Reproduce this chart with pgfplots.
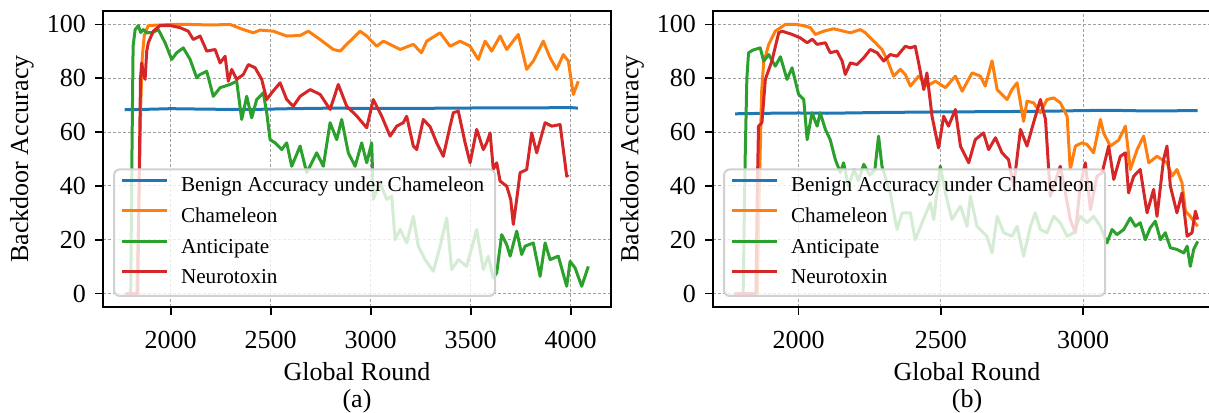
\documentclass[border=0pt]{standalone}
\usepackage{fontspec}
\setmainfont{Liberation Serif}
\usepackage{pgfplots}
\pgfplotsset{compat=1.18}

\definecolor{tabblue}{HTML}{1F77B4}
\definecolor{taborange}{HTML}{FF7F0E}
\definecolor{tabgreen}{HTML}{2CA02C}
\definecolor{tabred}{HTML}{D62728}

\newcommand{\labelfont}{\fontsize{13}{15}\selectfont}
\newcommand{\legfont}{\fontsize{10.6}{12}\selectfont}

\pgfplotsset{
  panel/.style={
    scale only axis,
    width=254pt, height=148pt,
    anchor=north west,
    ymin=-5, ymax=105,
    ytick={0,20,...,100},
    xtick={2000,2500,...,4000},
    scaled x ticks=false,
    /pgf/number format/assume math mode=true,
    /pgf/number format/1000 sep={},
    axis line style={line width=1pt},
    tick align=outside,
    major tick length=4pt,
    tick style={line width=0.8pt, black},
    xtick pos=left, ytick pos=left,
    grid=major,
    major grid style={gray!75, line width=0.5pt, dash pattern=on 1.5pt off 1pt},
    tick label style={font=\labelfont},
    xticklabel style={yshift=-4.5pt},
    yticklabel style={xshift=-1pt},
    label style={font=\labelfont},
    xlabel={Global Round},
    ylabel={Backdoor Accuracy},
    xlabel style={at={(axis description cs:0.5,0)}, anchor=base, yshift=-36.5pt},
    ylabel style={at={(axis description cs:-0.1594,0.5)}, anchor=center},
    legend cell align=left,
    legend image code/.code={
      \draw[#1, line width=1.5pt] (0pt,3.3pt) -- (22.5pt,3.3pt);
      \path (26.5pt,3.3pt);
    },
    legend style={
      at={(axis description cs:0.0197,0.0338)}, anchor=south west,
      draw=black!18, line width=1pt, rounded corners=3pt,
      fill=white, fill opacity=0.8, text opacity=1,
      font=\legfont, inner xsep=3pt, inner ysep=1.2pt, row sep=0.3pt,
      nodes={inner sep=2.5pt, text height=7.6pt, text depth=2.4pt},
    },
    every axis plot/.append style={line width=1.5pt, line join=round, no marks},
  },
}

\begin{document}
\begin{tikzpicture}[x=1pt, y=1pt]
\path[use as bounding box] (0,0) rectangle (604.5,-206);

% ---------- (a) ----------
\begin{axis}[panel, at={(51.5pt,-5.5pt)}, xmin=1661.5, xmax=4201.5]
\addplot[tabblue] coordinates {
(1770,68.3) (1900,68.5) (2000,68.7) (2200,68.5) (2400,68.4) (2600,68.7)
(2800,68.9) (3000,68.8) (3200,68.8) (3400,68.9) (3600,69.0) (3800,69.0)
(4000,69.1) (4036,68.9)};
\addlegendentry{Benign Accuracy under Chameleon}
\addplot[taborange] coordinates {
(1775,0) (1830,0) (1840,30) (1850,70) (1858,88) (1868,96) (1888,99.6)
(2000,100) (2100,100) (2200,99.8) (2297,100) (2363,98.1) (2413,96.9)
(2447,97.9) (2513,97.5) (2580,95.7) (2647,95.9) (2688,97.5) (2747,94.4)
(2813,90.7) (2847,90.1) (2880,92.6) (2947,97.5) (2980,95.7) (3030,91.9)
(3063,93.8) (3097,92.6) (3147,90.7) (3213,92.6) (3254,89.5) (3280,93.8)
(3347,96.9) (3397,91.9) (3447,93.8) (3497,91.9) (3538,87) (3572,93.8)
(3605,90.1) (3647,95.7) (3680,90.7) (3738,96.3) (3780,83.3) (3813,86.4)
(3863,93.8) (3897,87.6) (3930,83.3) (3963,88.8) (3988,86.4) (4013,74)
(4038,78.9)};
\addlegendentry{Chameleon}
\addplot[tabgreen] coordinates {
(1775,0) (1800,0) (1806,50) (1812,92) (1822,98) (1838,99.6) (1850,97)
(1863,98.1) (1880,96.9) (1910,97) (1938,98.1) (1972,93.2) (2005,87)
(2030,89.5) (2063,91.3) (2097,87) (2130,80.2) (2147,81.4) (2180,82.6)
(2213,73.3) (2247,76.5) (2297,77.7) (2330,78.9) (2355,64.7) (2380,73.3)
(2405,65.3) (2430,72.1) (2463,74.6) (2480,67.2) (2497,57.2) (2522,56)
(2555,53.5) (2580,56) (2605,47.3) (2647,54.8) (2680,44.9) (2730,52.3)
(2763,47.3) (2797,63.5) (2830,57.2) (2855,64.7) (2888,52.3) (2922,47.3)
(2955,56) (2980,48.6) (3005,56) (3013,35) (3047,41.1) (3080,35) (3105,36.2)
(3122,20) (3147,23.8) (3180,18.8) (3213,28.7) (3238,17.6) (3272,12.6)
(3313,8.3) (3347,17.6) (3380,28.1) (3405,8.9) (3438,12.6) (3480,10.1)
(3530,23.8) (3563,8.9) (3588,13.9) (3613,5.8) (3630,7.7) (3655,21.9)
(3680,18.2) (3697,13.9) (3730,23.2) (3755,14.5) (3772,17.6) (3813,18.8)
(3847,6.4) (3872,18.8) (3897,12.6) (3938,13.9) (3980,2.7) (3997,12)
(4022,9.5) (4055,2.7) (4088,10.1)};
\addlegendentry{Anticipate}
\addplot[tabred] coordinates {
(1775,0) (1835,0) (1842,40) (1849,80) (1855,85.7) (1863,82) (1872,79.6)
(1880,90) (1888,93.2) (1913,97.5) (1947,99.6) (1997,99.6) (2047,98.8)
(2088,97.5) (2113,94.4) (2147,95.7) (2180,90.1) (2222,90.7) (2247,85.7)
(2272,88.2) (2288,78.9) (2305,83.3) (2330,79.6) (2363,81.4) (2388,85.1)
(2422,83.9) (2455,79.6) (2480,72.1) (2505,74.6) (2547,78.3) (2580,72.1)
(2613,69.6) (2647,73.3) (2697,75.8) (2747,74) (2797,68.4) (2838,77.7)
(2880,69.6) (2930,66) (2980,61.6) (3013,72.1) (3055,65.9) (3097,58.5)
(3130,62.2) (3163,63.5) (3180,65.9) (3213,54.8) (3230,53.5) (3263,64.7)
(3297,62) (3330,56) (3363,51) (3397,62.2) (3413,67.2) (3438,67.8)
(3472,56) (3497,48.6) (3530,61) (3563,53.5) (3580,56) (3597,59.7)
(3613,46.1) (3630,48.6) (3647,41.8) (3680,39.9) (3700,35) (3713,25.7)
(3730,35) (3747,44.9) (3780,46.1) (3805,59.7) (3830,52.3) (3872,63.5)
(3905,62.2) (3947,62.8) (3963,53.5) (3980,43.6) (3988,44.2)};
\addlegendentry{Neurotoxin}
\end{axis}

% ---------- (b) ----------
\begin{axis}[panel, at={(356.5pt,-5.5pt)}, xmin=1699, xmax=3485]
\addplot[tabblue] coordinates {
(1777,66.8) (1900,67.0) (2000,67.1) (2100,67.0) (2300,67.3) (2500,67.5)
(2700,67.6) (2900,67.8) (3000,68.0) (3100,68.1) (3200,67.9) (3300,67.9)
(3403,68.0)};
\addlegendentry{Benign Accuracy under Chameleon}
\addplot[taborange] coordinates {
(1775,0) (1855,0) (1862,40) (1870,75) (1877,85.7) (1895,92.6) (1918,97.5)
(1953,100) (1994,100) (2020,99.5) (2041,98.8) (2059,96.3) (2088,97.5)
(2123,98.4) (2158,97.5) (2182,96.9) (2217,98.1) (2235,96.9) (2252,95)
(2270,93.2) (2293,90.7) (2311,87) (2334,80.8) (2358,83.3) (2375,81.4)
(2393,77.1) (2422,80.8) (2451,77.1) (2481,78.9) (2516,76.5) (2551,80.8)
(2575,75.2) (2610,82) (2639,80.8) (2656,77.1) (2680,86.5) (2698,75.8)
(2733,72.1) (2750,75.8) (2768,78.3) (2791,64) (2803,71.5) (2826,70.9)
(2850,67.2) (2873,72.1) (2897,72.7) (2920,70.9) (2944,65.9) (2955,46.1)
(2973,54.8) (2996,56) (3014,55.4) (3037,52.3) (3061,64.7) (3072,59.7)
(3096,54.8) (3125,57) (3149,62.2) (3166,46.1) (3190,53.5) (3213,58.5)
(3231,48.6) (3260,51) (3295,48.6) (3313,43.6) (3330,46.1) (3348,41.1)
(3360,30.6) (3377,28.7) (3389,26.9) (3403,25)};
\addlegendentry{Chameleon}
\addplot[tabgreen] coordinates {
(1775,0) (1805,0) (1812,50) (1818,80) (1824,89.5) (1840,90.5) (1865,91.3)
(1877,86.4) (1895,88.8) (1918,84.5) (1936,88) (1959,79.6) (1977,83.9)
(2000,74) (2018,72.1) (2030,57.2) (2047,67.2) (2065,62.2) (2076,67.2)
(2094,61) (2111,57.2) (2129,49.8) (2147,44.9) (2158,48.6) (2175,40)
(2195,46) (2210,42) (2229,48) (2250,44) (2268,46) (2281,58.5) (2293,47.3)
(2322,37.4) (2346,23.8) (2364,30) (2393,30) (2410,20) (2434,26.3)
(2463,33.7) (2475,27.5) (2498,47.3) (2516,37.4) (2539,27.5) (2569,32.5)
(2592,25) (2604,36.2) (2627,25) (2662,21.3) (2680,15.1) (2698,28.7)
(2721,22.6) (2750,21.3) (2768,25) (2791,13.9) (2815,25) (2832,30)
(2850,23.8) (2873,22.6) (2897,28.7) (2920,26.3) (2944,21.3) (2967,22.6)
(2990,28.7) (3014,26.3) (3037,28.7) (3061,25) (3084,18.8) (3102,23.8)
(3119,21.9) (3143,23.8) (3166,28.1) (3184,25) (3201,26.3) (3219,20)
(3236,24.4) (3254,26.9) (3272,20) (3289,22.6) (3307,17) (3330,16.4)
(3354,15.1) (3366,17.6) (3377,10.1) (3389,16.4) (3403,19.4)};
\addlegendentry{Anticipate}
\addplot[tabred] coordinates {
(1775,0) (1850,0) (1855,40) (1859,62.2) (1871,63.5) (1883,79.6) (1906,86.4)
(1930,96.9) (1942,97.5) (1977,96.3) (2006,95) (2030,93.2) (2048,94.5)
(2065,92.6) (2094,93.2) (2111,89.5) (2135,90.1) (2153,86.4) (2164,81.4)
(2182,85.7) (2205,85.1) (2229,87.6) (2252,90.7) (2276,89.5) (2299,86.4)
(2322,88.8) (2346,88.2) (2375,91.9) (2393,91.3) (2410,91.9) (2422,85.7)
(2440,75.8) (2451,82) (2469,65.9) (2492,54.1) (2510,65.9) (2527,62.2)
(2551,68.4) (2569,54.8) (2598,48.6) (2621,57.2) (2650,59.7) (2668,53.5)
(2692,57.9) (2715,52.3) (2738,49.8) (2756,39.9) (2780,61) (2803,54.8)
(2826,63.5) (2850,72.1) (2868,64.7) (2885,36.2) (2920,47.3) (2938,37.4)
(2955,27.5) (2973,22.6) (2990,39.9) (3008,48.6) (3026,31.2) (3049,43.6)
(3067,44.9) (3090,54.8) (3108,42.4) (3131,51) (3149,52.3) (3160,37.4)
(3178,43.6) (3201,46.1) (3225,30) (3248,38.7) (3260,28.7) (3283,49.8)
(3295,54.8) (3307,39.9) (3330,30) (3348,37.4) (3366,21.3) (3383,22.6)
(3395,30.6) (3403,27.5)};
\addlegendentry{Neurotoxin}
\end{axis}

\node[anchor=base, font=\labelfont] at (178.5,-203.5) {(a)};
\node[anchor=base, font=\labelfont] at (483.5,-203.5) {(b)};
\end{tikzpicture}
\end{document}
